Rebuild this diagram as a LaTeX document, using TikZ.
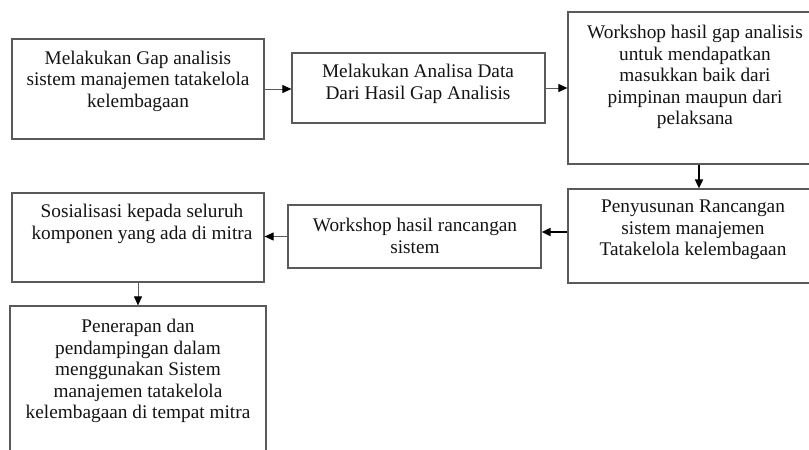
\documentclass[tikz,border=0pt]{standalone}
\usepackage{fontspec}
\setmainfont{Liberation Serif}
\usetikzlibrary{arrows.meta}
\definecolor{edge}{RGB}{90,90,90}
\definecolor{txtc}{RGB}{20,20,20}
\tikzset{
  x=1pt, y=-1pt,
  box/.style={draw=edge, line width=1.2pt, inner sep=0pt, fill=none},
  txt/.style={align=center, text=txtc, font=\fontsize{19.3}{21.4}\selectfont, inner sep=0pt},
  flow/.style={draw=edge, line width=1pt, -{Triangle[length=9pt,width=8pt,color=black,fill=black]}},
  flowb/.style={flow, draw=black, line width=1.8pt}
}
\newcommand{\bx}[5]{\node[box, minimum width={(#4)-(#2)}, minimum height={(#5)-(#3)}] (#1) at ({((#2)+(#4))/2},{((#3)+(#5))/2}) {};}
\begin{document}
\begin{tikzpicture}
\useasboundingbox (0,0) rectangle (809,450);
\clip (0,0) rectangle (809,450);
\fill[white] (0,0) rectangle (809,450);
% boxes
\bx{b1}{12}{39}{264}{139}
\bx{b2}{292}{53}{545}{123}
\bx{b3}{568}{12}{820}{164}
\bx{b4}{568}{189}{820}{283}
\bx{b5}{288}{205}{541}{268}
\bx{b6}{12}{193}{264}{282}
\bx{b7}{10}{306}{266}{470}
% texts
\node[txt] (t1) at (138,81) {Melakukan Gap analisis\\sistem manajemen tatakelola\\kelembagaan};
\node[txt] (t2) at (418,84) {Melakukan Analisa Data\\Dari Hasil Gap Analisis};
\node[txt] (t3) at (695,77) {Workshop hasil gap analisis\\untuk mendapatkan\\masukkan baik dari\\pimpinan maupun dari\\pelaksana};
\node[txt] (t4) at (693,230) {Penyusunan Rancangan\\sistem manajemen\\Tatakelola kelembagaan};
\node[txt] (t5) at (415,236) {Workshop hasil rancangan\\sistem};
\node[txt] (t6) at (142,224) {Sosialisasi kepada seluruh\\komponen yang ada di mitra};
\node[txt] (t7) at (138,371) {Penerapan dan\\pendampingan dalam\\menggunakan Sistem\\manajemen tatakelola\\kelembagaan di tempat mitra};
% connectors
\coordinate (c34) at (699,0);
\coordinate (c45) at (0,232);
\draw[flow] (b1.east) -- (b1.east -| b2.west);
\draw[flow] (b2.east) -- (b2.east -| b3.west);
\draw[flowb] (b3.south -| c34) -- (b4.north -| c34);
\draw[flowb] (b4.west |- c45) -- (b5.east |- c45);
\draw[flow] (b5.west) -- (b5.west -| b6.east);
\draw[flow] (b6.south) -- (b7.north);
\end{tikzpicture}
\end{document}
